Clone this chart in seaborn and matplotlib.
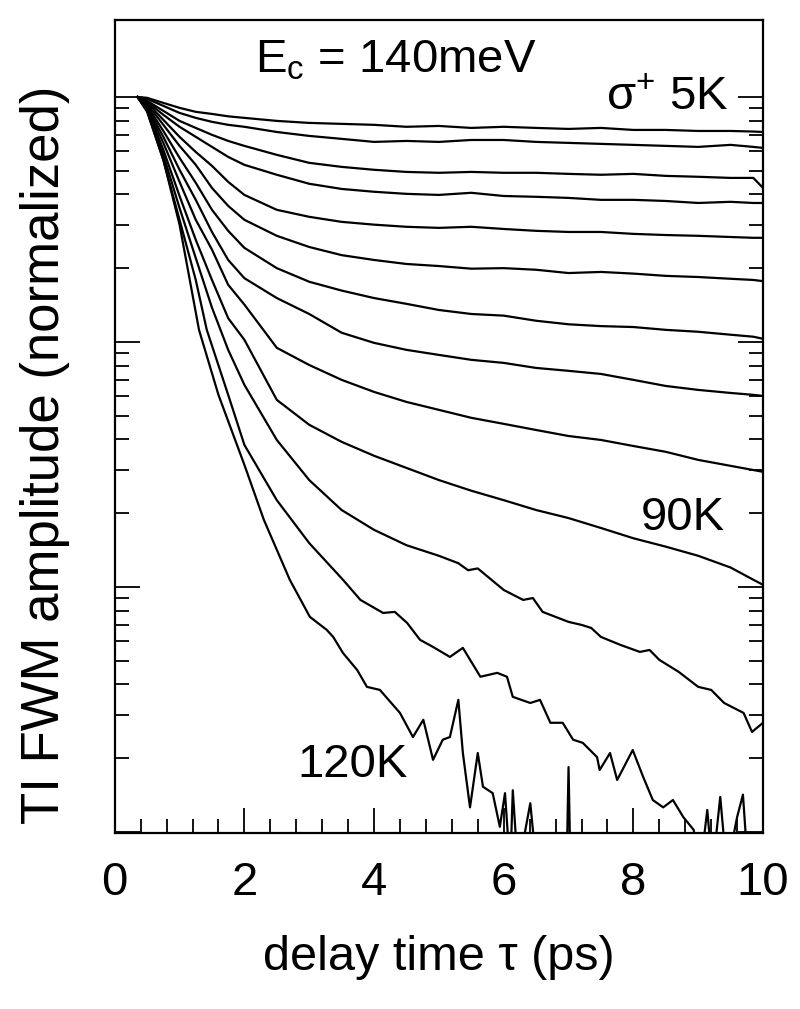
import pandas as pd
import seaborn as sns
import matplotlib.pyplot as plt
from matplotlib.ticker import FixedLocator, MultipleLocator, NullFormatter


# delay time grid (ps) shared by the 5K ... 90K traces
t_grid = [0.35, 0.5, 0.75, 1.0, 1.25, 1.5, 1.75, 2.0, 2.5, 3.0, 3.5, 4.0, 4.5,
          5.0, 5.5, 6.0, 6.5, 7.0, 7.5, 8.0, 8.5, 9.0, 9.5, 9.85, 10.0]

a_5K = [1.0, 0.991, 0.945, 0.902, 0.869, 0.852, 0.833, 0.821, 0.798, 0.783, 0.776, 0.769, 0.755,
        0.761, 0.747, 0.755, 0.747, 0.740, 0.747, 0.733, 0.733, 0.726, 0.726, 0.722, 0.719]
a_10K = [1.0, 0.981, 0.919, 0.860, 0.821, 0.791, 0.769, 0.755, 0.719, 0.693, 0.674, 0.655, 0.661,
         0.655, 0.667, 0.667, 0.655, 0.649, 0.643, 0.637, 0.631, 0.625, 0.637, 0.625, 0.619]
a_20K = [1.0, 0.963, 0.877, 0.798, 0.747, 0.700, 0.661, 0.631, 0.580, 0.538, 0.518, 0.504, 0.494,
         0.490, 0.494, 0.490, 0.490, 0.485, 0.481, 0.485, 0.476, 0.472, 0.467, 0.467, 0.425]
a_30K = [1.0, 0.954, 0.845, 0.755, 0.687, 0.625, 0.569, 0.528, 0.481, 0.442, 0.421, 0.410, 0.402,
         0.398, 0.406, 0.394, 0.391, 0.387, 0.380, 0.380, 0.376, 0.369, 0.373, 0.369, 0.369]
a_40K = [1.0, 0.945, 0.806, 0.687, 0.596, 0.523, 0.450, 0.398, 0.346, 0.324, 0.309, 0.301, 0.295,
         0.292, 0.295, 0.289, 0.284, 0.281, 0.281, 0.276, 0.273, 0.271, 0.268, 0.266, 0.266]
a_50K = [1.0, 0.936, 0.769, 0.631, 0.528, 0.425, 0.359, 0.315, 0.271, 0.244, 0.226, 0.216, 0.208,
         0.204, 0.199, 0.200, 0.197, 0.191, 0.193, 0.190, 0.186, 0.184, 0.181, 0.179, 0.177]
a_60K = [1.0, 0.919, 0.726, 0.564, 0.446, 0.346, 0.284, 0.242, 0.200, 0.176, 0.162, 0.151, 0.143,
         0.135, 0.130, 0.128, 0.122, 0.118, 0.116, 0.115, 0.112, 0.110, 0.107, 0.105, 0.103]
a_70K = [1.0, 0.910, 0.687, 0.504, 0.380, 0.281, 0.216, 0.182, 0.151, 0.130, 0.109, 0.0991, 0.0928,
         0.0885, 0.0845, 0.0821, 0.0783, 0.0762, 0.0740, 0.0700, 0.0661, 0.0637, 0.0619, 0.0608, 0.0602]
a_80K = [1.0, 0.902, 0.649, 0.450, 0.315, 0.238, 0.171, 0.142, 0.0946, 0.0805, 0.0700, 0.0625, 0.0569,
         0.0528, 0.0490, 0.0463, 0.0437, 0.0413, 0.0398, 0.0376, 0.0356, 0.0330, 0.0312, 0.0300, 0.0295]
a_90K = [1.0, 0.894, 0.608, 0.394, 0.261, 0.179, 0.125, 0.102, 0.0580, 0.0459, 0.0391, 0.0343, 0.0306,
         0.0273, 0.0247, 0.0226, 0.0206, 0.0191, 0.0174, 0.0158, 0.0146, 0.0134, 0.0120, 0.0107, 0.0102]

# the noisy high-temperature traces have their own sampling
t_100K = [0.35, 0.5, 0.75, 1.0, 1.25, 1.5, 1.75, 2.0, 2.5, 3.0, 3.5, 4.0, 4.5, 5.0, 5.3, 5.45,
          5.6, 6.0, 6.3, 6.45, 6.6, 7.0, 7.2, 7.35, 7.5, 7.8, 8.1, 8.25, 8.4, 8.7, 9.0, 9.2,
          9.4, 9.7, 9.83, 10.0]
a_100K = [1.0, 0.885, 0.580, 0.352, 0.220, 0.138, 0.0928, 0.0668, 0.0398, 0.0273, 0.0206, 0.0171,
          0.0148, 0.0134, 0.0125, 0.0117, 0.0119, 0.00972, 0.00885, 0.00901, 0.00791, 0.00720,
          0.00700, 0.00680, 0.00625, 0.00580, 0.00543, 0.00553, 0.00504, 0.00450, 0.00391,
          0.00380, 0.00336, 0.00306, 0.00256, 0.00279]

t_110K = [0.35, 0.5, 0.75, 1.0, 1.25, 1.42, 1.75, 2.0, 2.5, 3.0, 3.52, 3.79, 4.14, 4.32, 4.51,
          4.71, 4.91, 5.17, 5.37, 5.64, 5.9, 6.05, 6.14, 6.41, 6.56, 6.72, 6.91, 7.07, 7.22,
          7.44, 7.48, 7.64, 7.75, 7.99, 8.15, 8.3, 8.46, 8.61, 8.77, 8.93, 9.03, 9.14, 9.22,
          9.34, 9.44, 9.6, 9.69, 9.77, 10.0]
a_110K = [1.0, 0.877, 0.553, 0.315, 0.179, 0.112, 0.0608, 0.0380, 0.0226, 0.0151, 0.0107, 0.00885,
          0.00783, 0.00791, 0.00713, 0.00608, 0.00569, 0.00518, 0.00564, 0.00430, 0.00446,
          0.00430, 0.00356, 0.00336, 0.00346, 0.00279, 0.00279, 0.00238, 0.00231, 0.00202,
          0.00179, 0.00210, 0.00163, 0.00216, 0.00168, 0.00135, 0.00126, 0.00135, 0.00115,
          0.00102, 0.0007, 0.00123, 0.0007, 0.00139, 0.0007, 0.00115, 0.00142, 0.0007, 0.0007]

t_120K = [0.35, 0.5, 0.75, 1.0, 1.3, 1.6, 2.0, 2.3, 2.7, 3.01, 3.27, 3.37, 3.52, 3.74, 3.89,
          4.09, 4.4, 4.6, 4.76, 4.91, 5.06, 5.17, 5.3, 5.37, 5.48, 5.6, 5.68, 5.83, 5.94, 6.02,
          6.1, 6.14, 6.22, 6.41, 6.51, 6.97, 7.0, 7.03, 10.0]
a_120K = [1.0, 0.869, 0.553, 0.301, 0.112, 0.0608, 0.0315, 0.0188, 0.0107, 0.00755, 0.00668,
          0.00625, 0.00538, 0.00458, 0.00391, 0.00380, 0.00306, 0.00244, 0.00287, 0.00197,
          0.00238, 0.00244, 0.00346, 0.00210, 0.00126, 0.00210, 0.00153, 0.00144, 0.00105,
          0.00144, 0.0007, 0.00148, 0.0007, 0.00131, 0.0007, 0.0007, 0.00184, 0.0007, 0.0007]

curves = [
    ("5K", t_grid, a_5K), ("10K", t_grid, a_10K), ("20K", t_grid, a_20K),
    ("30K", t_grid, a_30K), ("40K", t_grid, a_40K), ("50K", t_grid, a_50K),
    ("60K", t_grid, a_60K), ("70K", t_grid, a_70K), ("80K", t_grid, a_80K),
    ("90K", t_grid, a_90K), ("100K", t_100K, a_100K), ("110K", t_110K, a_110K),
    ("120K", t_120K, a_120K),
]
df = pd.concat(
    [pd.DataFrame({"t": t, "amp": a, "temp": name}) for name, t, a in curves],
    ignore_index=True,
)

sns.set_style("ticks")
plt.rcParams["font.family"] = ["Liberation Sans", "DejaVu Sans"]
plt.rcParams["mathtext.fontset"] = "custom"
plt.rcParams["mathtext.rm"] = "Liberation Sans"
plt.rcParams["mathtext.it"] = "Liberation Sans:italic"
plt.rcParams["text.color"] = "black"

fig = plt.figure(figsize=(8, 10.09), dpi=100)
ax = fig.add_axes([0.1434, 0.1744, 0.8104, 0.8058])

sns.lineplot(data=df, x="t", y="amp", units="temp", estimator=None, sort=False,
             color="black", linewidth=1.6, ax=ax)

ax.set_yscale("log")
ax.set_xlim(0, 10)
ax.set_ylim(0.00099, 2.06)

# decade ticks only from 1e-3 up to 1, no labels
y_major = [0.001, 0.01, 0.1, 1.0]
y_minor = [m * d for d in (0.001, 0.01, 0.1) for m in range(2, 10)]
ax.yaxis.set_major_locator(FixedLocator(y_major))
ax.yaxis.set_minor_locator(FixedLocator(y_minor))
ax.yaxis.set_major_formatter(NullFormatter())
ax.yaxis.set_minor_formatter(NullFormatter())
ax.xaxis.set_major_locator(MultipleLocator(2))
ax.xaxis.set_minor_locator(MultipleLocator(0.4))

ax.tick_params(which="both", direction="in", top=False, right=True,
               width=1.3, color="black", labelcolor="black")
ax.tick_params(which="major", length=18, labelsize=34, pad=20)
ax.tick_params(which="minor", length=10)
for s in ax.spines.values():
    s.set_linewidth(1.6)
    s.set_color("black")

ax.set_xlabel("")
ax.set_ylabel("")
ax.text(0.5, -0.1685, "delay time τ (ps)", transform=ax.transAxes,
        ha="center", va="baseline", fontsize=35, color="black")
fig.text(45 / 800, 1 - 455 / 1009, "TI FWM amplitude (normalized)",
         rotation=90, ha="center", va="center", fontsize=38, color="black")

# annotations
ax.text(0.216, 0.935, r"$\mathregular{E_c}$ = 140meV", transform=ax.transAxes,
        ha="left", va="baseline", fontsize=34, color="black")
ax.text(0.946, 0.889, r"$\mathregular{σ^{+}}$ 5K", transform=ax.transAxes,
        ha="right", va="baseline", fontsize=34, color="black")
ax.text(0.941, 0.373, "90K", transform=ax.transAxes,
        ha="right", va="baseline", fontsize=34, color="black")
ax.text(0.2814, 0.0689, "120K", transform=ax.transAxes,
        ha="left", va="baseline", fontsize=34, color="black")

fig.savefig("out.png", dpi=100)
